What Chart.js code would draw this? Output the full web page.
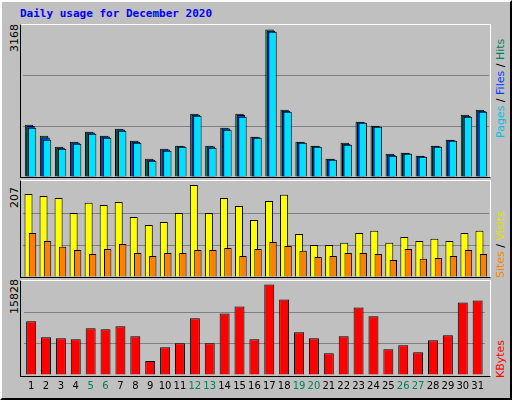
<!DOCTYPE html>
<html>
<head>
<meta charset="utf-8">
<script src="https://cdn.jsdelivr.net/npm/chart.js@4/dist/chart.umd.min.js"></script>
<style>
  body { margin: 0; background: #fff; }
  #frame { position: absolute; left: 0; top: 0; width: 508px; height: 396px; background: #C0C0C0;
    border-top: 2px solid #fff; border-left: 2px solid #fff; border-right: 2px solid #000; border-bottom: 2px solid #000; }
  .panel { position: absolute; left: 20px; width: 469px; border-top: 1px solid #fff; border-right: 1px solid #fff;
    border-left: 1px solid #000; border-bottom: 1px solid #000; }
  canvas { position: absolute; }
  .lbl { position: absolute; font: 11px "DejaVu Sans", sans-serif; transform-origin: 0 0; transform: rotate(-90deg); white-space: nowrap; }
  #title { position: absolute; left: 20px; top: 7px; font: bold 11px "DejaVu Sans Mono", monospace; color: #0000FF; }
</style>
</head>
<body>
<div id="frame"></div>
<div id="title">Daily usage for December 2020</div>
<div class="panel" style="top:24px;height:152px"></div>
<div class="panel" style="top:180px;height:96px"></div>
<div class="panel" style="top:280px;height:95px"></div>
<canvas id="c1" width="466" height="152" style="left:23px;top:25px"></canvas>
<canvas id="c2" width="466" height="96" style="left:23px;top:181px"></canvas>
<canvas id="c3" width="466" height="115" style="left:23px;top:281px"></canvas>
<div class="lbl" style="left:8px;top:52px">3168</div>
<div class="lbl" style="left:8px;top:208px">207</div>
<div class="lbl" style="left:8px;top:314px">15828</div>
<div class="lbl" style="left:494px;top:138px"><span style="color:#00C0E0">Pages</span> / <span style="color:#0040FF">Files</span> / <span style="color:#00805C">Hits</span></div>
<div class="lbl" style="left:494px;top:278px"><span style="color:#FF8000">Sites</span> / <span style="color:#E0E000">Visits</span></div>
<div class="lbl" style="left:494px;top:378px"><span style="color:#FF0000">KBytes</span></div>
<script>
const days = ['1','2','3','4','5','6','7','8','9','10','11','12','13','14','15','16','17','18','19','20','21','22','23','24','25','26','27','28','29','30','31'];
const weekendDays = ['5','6','12','13','19','20','26','27'];

const hits  = [1125, 888, 652, 759, 974, 888, 1039, 781, 394, 609, 673, 1361, 673, 1060, 1361, 867, 3168, 1447, 759, 673, 394, 738, 1189, 1103, 501, 523, 458, 673, 802, 1340, 1447];
const files = [1095, 850, 630, 740, 955, 868, 1020, 760, 372, 590, 662, 1340, 655, 1040, 1330, 855, 3145, 1425, 748, 662, 384, 716, 1178, 1092, 480, 512, 448, 662, 792, 1318, 1425];
const pages = [1060, 802, 609, 716, 931, 845, 996, 738, 351, 566, 652, 1318, 630, 1017, 1297, 845, 3123, 1404, 738, 652, 373, 695, 1168, 1082, 458, 501, 437, 652, 781, 1297, 1404];

const visits = [187, 182, 178, 144, 167, 162, 169, 135, 117, 124, 144, 207, 144, 178, 160, 128, 171, 185, 97, 72, 72, 77, 99, 104, 77, 90, 81, 86, 81, 99, 104];
const sites  = [99, 81, 68, 61, 52, 63, 74, 54, 47, 54, 54, 61, 61, 65, 47, 63, 79, 70, 59, 45, 47, 54, 54, 52, 38, 63, 41, 43, 47, 61, 52];

const kbytes = [9393, 6610, 6436, 6262, 8175, 8001, 8523, 6784, 2435, 4870, 5566, 9915, 5566, 10784, 12002, 6262, 15828, 13219, 7479, 6436, 3827, 6784, 11828, 10262, 4522, 5218, 4001, 6088, 6958, 12697, 13045];

// draw datasets in index order so the right-hand bar sits on top
const drawOrder = {
    id: 'drawOrder',
    beforeDatasetsDraw(chart) {
        chart.getSortedVisibleDatasetMetas().forEach(m => m.controller.draw());
        return false;
    }
};

function yScale(max) {
    return {
        min: 0, max: max,
        ticks: { display: false, stepSize: max / 3 },
        grid: { drawTicks: false, color: c => (c.index === 0 || c.index === 3) ? 'rgba(0,0,0,0)' : '#808080' },
        border: { display: false }
    };
}

function panel(id, datasets, max, catPct, showX) {
    return new Chart(document.getElementById(id), {
        type: 'bar',
        data: { labels: days, datasets: datasets },
        plugins: [drawOrder],
        options: {
            responsive: false,
            animation: false,
            layout: { padding: 0 },
            datasets: { bar: { categoryPercentage: catPct, borderColor: '#000', borderWidth: 1, borderSkipped: 'bottom' } },
            plugins: { legend: { display: false }, tooltip: { enabled: false } },
            scales: {
                x: showX ? {
                    grid: { display: false, drawTicks: false },
                    border: { display: false },
                    afterFit: s => { s.height = 21; },
                    ticks: {
                        padding: 5, maxRotation: 0, autoSkip: false,
                        font: { family: 'DejaVu Sans', size: 10 },
                        color: c => weekendDays.includes(days[c.index]) ? '#00805C' : '#000'
                    }
                } : { display: false },
                y: yScale(max)
            }
        }
    });
}

panel('c1', [
    { data: hits,  backgroundColor: '#00805C', barPercentage: 5.6 },
    { data: files, backgroundColor: '#0040FF', barPercentage: 5.6 },
    { data: pages, backgroundColor: '#00E0FF', barPercentage: 5.6 }
], 3267, 0.3, false);

panel('c2', [
    { data: visits, backgroundColor: '#FFFF00', barPercentage: 2.0 },
    { data: sites,  backgroundColor: '#FF8000', barPercentage: 1.85 }
], 216, 0.533, false);

panel('c3', [
    { data: kbytes, backgroundColor: '#FF0000', barPercentage: 0.67 }
], 16454, 1.0, true);
</script>
</body>
</html>
